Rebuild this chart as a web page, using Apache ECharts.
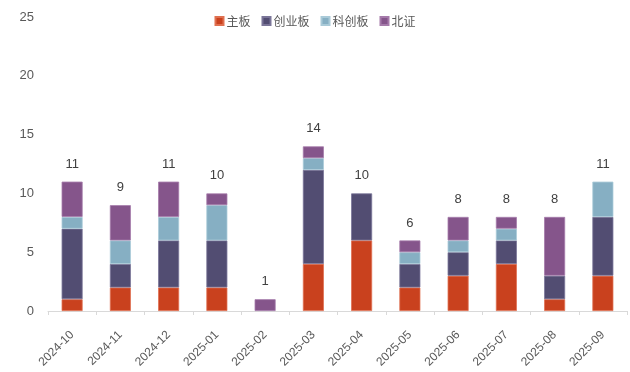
<!DOCTYPE html>
<html><head><meta charset="utf-8">
<script src="https://cdn.jsdelivr.net/npm/echarts@6/dist/echarts.min.js"></script>
<style>html,body{margin:0;padding:0;background:#fff}#c{width:630px;height:372px}</style>
</head><body><div id="c"></div>
<script>
var categories = ['2024-10','2024-11','2024-12','2025-01','2025-02','2025-03','2025-04','2025-05','2025-06','2025-07','2025-08','2025-09'];
var mainBoard = [1,2,2,2,0,4,6,2,3,4,1,3];
var chiNext = [6,2,4,4,0,8,4,2,2,2,2,5];
var star = [1,2,2,3,0,1,0,1,1,1,0,3];
var bse = [3,3,3,1,1,1,0,1,2,1,5,0];
var totals = [11,9,11,10,1,14,10,6,8,8,8,11];
var yTicks = [0,5,10,15,20,25];

var names = ['主板','创业板','科创板','北证'];
var colors = ['#C9411E','#524D72','#86AFC3','#85558B'];
var borders = ['#E07050','#7A7598','#A9CAD8','#A57AAA'];
var datas = [mainBoard, chiNext, star, bse];
var series = names.map(function(n,i){
  return {name:n,type:'bar',stack:'s',barWidth:21,
    data:datas[i].map(function(v){return v===0?'-':v;}),
    itemStyle:{color:colors[i],borderColor:borders[i],borderWidth:0.8}};
});
series.push({name:'total',type:'bar',stack:'s',barWidth:21,data:totals.map(function(){return 0;}),
  itemStyle:{color:'transparent'},
  label:{show:true,position:'top',distance:11,color:'#404040',fontSize:13,fontFamily:'Liberation Sans, Arial',
    formatter:function(p){return totals[p.dataIndex];}}});

var chart = echarts.init(document.getElementById('c'));
chart.setOption({
  animation:false,
  textStyle:{fontFamily:'Liberation Sans, Arial, Noto Sans CJK SC'},
  legend:{data:names,top:10,left:'center',itemWidth:8,itemHeight:8,itemGap:11,icon:'rect',
    textStyle:{fontSize:12,color:'#595959',fontFamily:'Noto Sans CJK SC',padding:[0,0,0,-2]}},
  grid:{left:48,right:3,top:17,bottom:61},
  xAxis:{type:'category',data:categories,
    axisLine:{lineStyle:{color:'#D9D9D9',width:1}},
    axisTick:{show:true,length:4,lineStyle:{color:'#D9D9D9'}},
    axisLabel:{rotate:45,color:'#595959',fontSize:12,margin:22,interval:0}},
  yAxis:{type:'value',min:yTicks[0],max:yTicks[yTicks.length-1],interval:5,
    splitLine:{show:false},axisLine:{show:false},axisTick:{show:false},
    axisLabel:{color:'#595959',fontSize:13,margin:14}},
  series:series
});
</script></body></html>
